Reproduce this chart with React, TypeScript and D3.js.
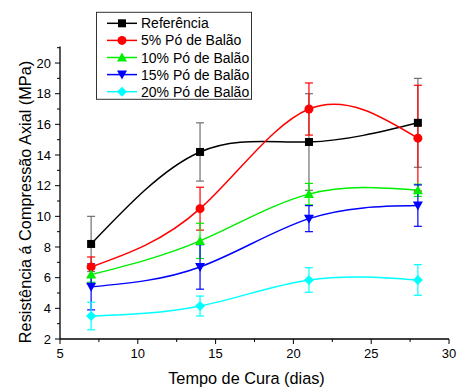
import React from "react";
import * as d3 from "d3";

const days = [7, 14, 21, 28];
const seriesNames = ["Referência", "5% Pó de Balão", "10% Pó de Balão", "15% Pó de Balão", "20% Pó de Balão"];
const refValues = [8.2, 14.2, 14.85, 16.1];
const refErrors = [1.8, 1.9, 3.15, 2.9];
const p5Values = [6.7, 10.5, 17.0, 15.1];
const p5Errors = [0.65, 1.4, 1.7, 3.45];
const p10Values = [6.2, 8.4, 11.45, 11.7];
const p10Errors = [0.5, 1.15, 0.7, 0.4];
const p15Values = [5.4, 6.7, 9.85, 10.7];
const p15Errors = [1.5, 1.45, 0.85, 1.35];
const p20Values = [3.5, 4.15, 5.85, 5.85];
const p20Errors = [0.9, 0.65, 0.8, 1.0];
const colors = ["#000000", "#ff0000", "#00ee00", "#0000ff", "#00ffff"];
const errColors = ["#707070", "#ff0000", "#00ee00", "#0000ff", "#00ffff"];
const markers = ["square", "circle", "triangle", "triangleDown", "diamond"];
const xTicks = [5, 10, 15, 20, 25, 30];
const yTicks = [2, 4, 6, 8, 10, 12, 14, 16, 18, 20];

const allValues = [refValues, p5Values, p10Values, p15Values, p20Values];
const allErrors = [refErrors, p5Errors, p10Errors, p15Errors, p20Errors];

function Marker({ type, x, y, color }: { type: string; x: number; y: number; color: string }) {
  if (type === "square") return <rect x={x - 4} y={y - 4} width={8} height={8} fill={color} />;
  if (type === "circle") return <circle cx={x} cy={y} r={4.5} fill={color} />;
  if (type === "triangle") return <path d={`M${x},${y - 5} L${x + 5},${y + 4} L${x - 5},${y + 4} Z`} fill={color} />;
  if (type === "triangleDown") return <path d={`M${x},${y + 5} L${x + 5},${y - 4} L${x - 5},${y - 4} Z`} fill={color} />;
  return <path d={`M${x},${y - 5} L${x + 5},${y} L${x},${y + 5} L${x - 5},${y} Z`} fill={color} />;
}

export default function App() {
  const W = 461, H = 390;
  const x = d3.scaleLinear().domain([5, 30]).range([60, 449]);
  const y = d3.scaleLinear().domain([2, 21]).range([339, 47.7]);
  const line = d3.line<number>().x((_, i) => x(days[i])).y((d) => y(d)).curve(d3.curveNatural);
  const font = "Arial, 'Liberation Sans', sans-serif";
  const xMinor = d3.range(5, 30.01, 2.5);
  const yMinor = d3.range(2, 21.01, 1);

  return (
    <svg width={W} height={H} style={{ position: "absolute", left: 0, top: 0, background: "#fff" }} fontFamily={font}>
      {allValues.map((vals, s) => (
        <path key={"l" + s} d={line(vals) || ""} fill="none" stroke={colors[s]} strokeWidth={1.5} />
      ))}
      {allValues.map((vals, s) =>
        vals.map((v, i) => {
          const e = allErrors[s][i];
          const cx = x(days[i]);
          return (
            <g key={`e${s}-${i}`} stroke={errColors[s]} strokeWidth={1.2}>
              <line x1={cx} x2={cx} y1={y(v + e)} y2={y(v - e)} />
              <line x1={cx - 4} x2={cx + 4} y1={y(v + e)} y2={y(v + e)} />
              <line x1={cx - 4} x2={cx + 4} y1={y(v - e)} y2={y(v - e)} />
            </g>
          );
        })
      )}
      {allValues.map((vals, s) =>
        vals.map((v, i) => <Marker key={`m${s}-${i}`} type={markers[s]} x={x(days[i])} y={y(v)} color={colors[s]} />)
      )}
      <line x1={60} x2={449} y1={339} y2={339} stroke="#000" strokeWidth={1.3} />
      <line x1={60} x2={60} y1={339} y2={46.5} stroke="#000" strokeWidth={1.3} />
      {xMinor.map((t) => (
        <line key={"xm" + t} x1={x(t)} x2={x(t)} y1={339} y2={339 + (t % 5 === 0 ? 5 : 3)} stroke="#000" strokeWidth={1} />
      ))}
      {yMinor.map((t) => (
        <line key={"ym" + t} x1={60} x2={60 - (t % 2 === 0 ? 5 : 3)} y1={y(t)} y2={y(t)} stroke="#000" strokeWidth={1} />
      ))}
      {xTicks.map((t) => (
        <text key={"xt" + t} x={x(t)} y={358} textAnchor="middle" fontSize={13}>{t}</text>
      ))}
      {yTicks.map((t) => (
        <text key={"yt" + t} x={51} y={y(t) + 4.5} textAnchor="end" fontSize={13}>{t}</text>
      ))}
      <text x={246.5} y={384} textAnchor="middle" fontSize={16.3}>Tempo de Cura (dias)</text>
      <text transform={`translate(31,${202}) rotate(-90)`} textAnchor="middle" fontSize={16.3}>Resistência á Compressão Axial (MPa)</text>
      <rect x={96.5} y={12.3} width={155} height={87} fill="#fff" stroke="#333" strokeWidth={1} />
      {seriesNames.map((name, s) => {
        const ly = 23.3 + s * 17.1;
        return (
          <g key={"lg" + s}>
            <line x1={107} x2={137} y1={ly} y2={ly} stroke={colors[s]} strokeWidth={1.5} />
            <Marker type={markers[s]} x={122} y={ly} color={colors[s]} />
            <text x={141} y={ly + 5} fontSize={14}>{name}</text>
          </g>
        );
      })}
    </svg>
  );
}
